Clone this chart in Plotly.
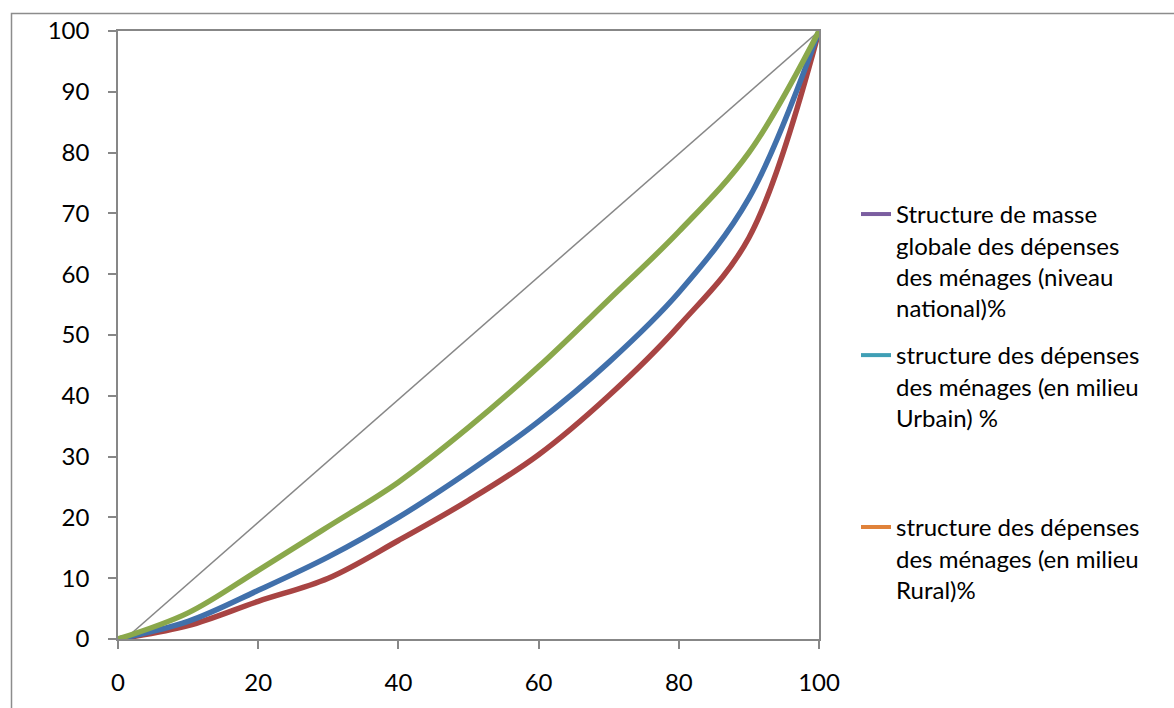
import plotly.graph_objects as go

# Cumulative share of households (x, %) and cumulative share of spending (y, %)
deciles = [0, 10, 20, 30, 40, 50, 60, 70, 80, 90, 100]
green_curve = [0, 4.3, 11.3, 18.5, 25.8, 34.8, 44.8, 55.8, 67.0, 80.0, 100]
blue_curve = [0, 2.9, 8.0, 13.5, 20.0, 27.5, 35.8, 45.5, 57.0, 72.5, 100]
red_curve = [0, 2.2, 6.2, 10.0, 16.2, 22.8, 30.3, 40.0, 51.5, 66.0, 100]

# Equality reference line
equality_x = [1, 100]
equality_y = [0, 100]

legend_names = [
    "Structure de masse<br>globale des dépenses<br>des ménages (niveau<br>national)%",
    "structure des dépenses<br>des ménages (en milieu<br>Urbain) %",
    "structure des dépenses<br>des ménages (en milieu<br>Rural)%",
]
legend_colors = ["#7B5EA0", "#3F9FB5", "#E0823A"]

axis_ticks = [0, 10, 20, 30, 40, 50, 60, 70, 80, 90, 100]
x_ticks = [0, 20, 40, 60, 80, 100]

FONT = "Lato"
W, H = 1174, 708
L, R, T, B = 118, 819, 31, 643


def px(xp):
    return (xp - L) / (R - L)


def py(yp):
    return (B - yp) / (B - T)


fig = go.Figure()

fig.add_trace(go.Scatter(
    x=equality_x, y=equality_y, mode="lines",
    line=dict(color="#878787", width=1.5), showlegend=False, hoverinfo="skip"))

for ys, col in [(red_curve, "#A84443"), (blue_curve, "#4170AB"), (green_curve, "#8AA84B")]:
    fig.add_trace(go.Scatter(
        x=deciles, y=ys, mode="lines",
        line=dict(color=col, width=5.5, shape="spline", smoothing=1.0),
        showlegend=False))

legend_tops = [193, 335, 508]
legend_keys = ["legend", "legend2", "legend3"]
for name, col, key in zip(legend_names, legend_colors, legend_keys):
    fig.add_trace(go.Scatter(
        x=[None], y=[None], mode="lines", name=name,
        line=dict(color=col, width=4), legend=key))

legend_layout = {}
for key, top in zip(legend_keys, legend_tops):
    legend_layout[key] = dict(
        x=px(856), y=py(top), xanchor="left", yanchor="top",
        valign="top", bgcolor="rgba(0,0,0,0)",
        font=dict(family=FONT, size=24, color="#000000"))

fig.update_layout(
    width=W, height=H,
    margin=dict(l=L, r=W - R, t=T, b=H - B, pad=0),
    paper_bgcolor="white", plot_bgcolor="white",
    font=dict(family=FONT, size=24, color="#000000"),
    xaxis=dict(
        range=[0, 100], tickvals=x_ticks, ticks="outside", ticklen=8,
        tickcolor="#878787", tickwidth=1.5, showgrid=False, zeroline=False,
        showline=True, linecolor="#878787", linewidth=1.5, mirror=True,
        ticklabelstandoff=13, tickfont=dict(family=FONT, size=24, color="#000000")),
    yaxis=dict(
        range=[0, 100], tickvals=axis_ticks, ticks="outside", ticklen=8,
        tickcolor="#878787", tickwidth=1.5, showgrid=False, zeroline=False,
        showline=True, linecolor="#878787", linewidth=1.5, mirror=True,
        ticklabelstandoff=14, tickfont=dict(family=FONT, size=24, color="#000000")),
    shapes=[dict(
        type="rect", xref="paper", yref="paper",
        x0=px(11.5), x1=px(1200), y0=py(13.5), y1=py(730),
        line=dict(color="#8C8C8C", width=1.5), fillcolor="rgba(0,0,0,0)", layer="below")],
    **legend_layout,
)

fig.write_html("out.html")
